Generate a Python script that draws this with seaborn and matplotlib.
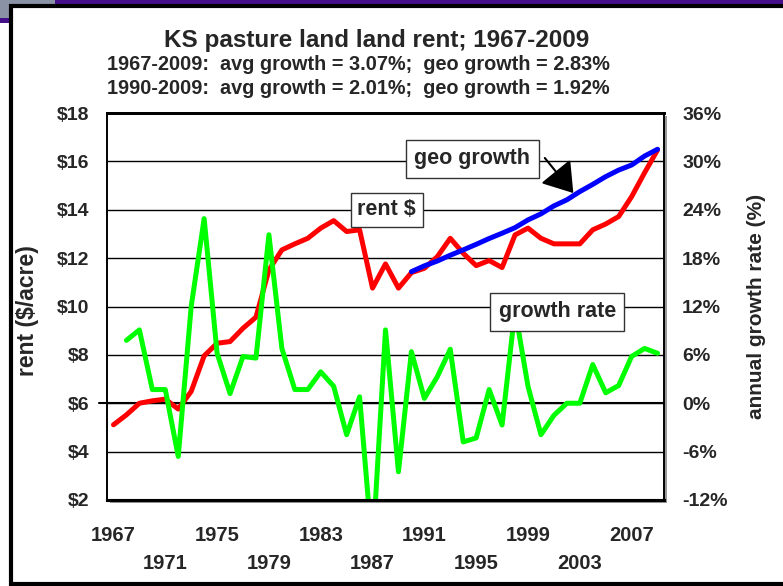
import pandas as pd
import matplotlib
matplotlib.use('Agg')
import matplotlib.pyplot as plt
import matplotlib.ticker as mticker
from matplotlib.patches import Rectangle
import seaborn as sns

# values
years = list(range(1967, 2010))
rent = [5.11, 5.52, 6.00, 6.10, 6.17, 5.76, 6.49, 7.96, 8.48, 8.55,
        9.10, 9.56, 11.51, 12.34, 12.59, 12.82, 13.24, 13.55, 13.10, 13.17,
        10.76, 11.76, 10.76, 11.40, 11.58, 12.06, 12.82, 12.20, 11.69, 11.90,
        11.61, 12.96, 13.24, 12.82, 12.59, 12.59, 12.59, 13.17, 13.41, 13.72,
        14.54, 15.53, 16.47]
growth_years = years[1:]
growth = [7.8, 9.1, 1.7, 1.7, -6.6, 12.0, 22.9, 6.2, 1.2, 5.8,
          5.6, 20.9, 6.8, 1.7, 1.7, 3.9, 2.1, -3.9, 0.8, -18.3,
          9.1, -8.5, 6.4, 0.6, 3.3, 6.7, -4.8, -4.3, 1.7, -2.7,
          11.6, 2.1, -3.9, -1.5, 0.0, 0.0, 4.8, 1.3, 2.2, 5.8,
          6.8, 6.2]
geo_years = years[23:]
geo = [11.44, 11.68, 11.88, 12.12, 12.34, 12.57, 12.81, 13.03, 13.26, 13.58,
       13.83, 14.16, 14.41, 14.75, 15.05, 15.37, 15.64, 15.85, 16.22, 16.50]

label_years = list(range(1967, 2010, 4))
left_ticks = list(range(2, 19, 2))
right_ticks = list(range(-12, 37, 6))

title = 'KS pasture land land rent; 1967-2009'
sub1 = '1967-2009:  avg growth = 3.07%;  geo growth = 2.83%'
sub2 = '1990-2009:  avg growth = 2.01%;  geo growth = 1.92%'

sns.set_style('white')
plt.rcParams['font.family'] = ['Liberation Sans', 'DejaVu Sans']
plt.rcParams['font.weight'] = 'bold'

W, H = 783, 586
fig = plt.figure(figsize=(W / 100, H / 100), dpi=100)
fig.patch.set_facecolor('white')


def px(x0, y0, x1, y1):
    # pixel box -> figure fraction rect
    return [x0 / W, 1 - y1 / H, (x1 - x0) / W, (y1 - y0) / H]


# slide frame
fig.add_artist(Rectangle((0, 1 - 5 / H), 1, 5 / H, transform=fig.transFigure,
                         color='#46108a', lw=0, zorder=-5))
fig.add_artist(Rectangle((0, 1 - 18 / H), 55 / W, 18 / H, transform=fig.transFigure,
                         color='#8a93a6', lw=0, zorder=-4))
fig.add_artist(Rectangle((0, 1 - 23 / H), 10 / W, 5 / H, transform=fig.transFigure,
                         color='#46108a', lw=0, zorder=-4))
fig.add_artist(Rectangle((11 / W, 1 - 584 / H), 1.2, (584 - 6) / H,
                         transform=fig.transFigure, facecolor='white',
                         edgecolor='black', lw=3, zorder=-3))
# plot area shadow
r = px(110, 116, 667, 503)
fig.add_artist(Rectangle((r[0], r[1]), r[2], r[3], transform=fig.transFigure,
                         color='#9a9a9a', lw=0, zorder=-1))

ax = fig.add_axes(px(107, 113, 664, 500))
ax2 = ax.twinx()

df_rent = pd.DataFrame({'year': years, 'rent': rent})
df_growth = pd.DataFrame({'year': growth_years, 'growth': growth})
df_geo = pd.DataFrame({'year': geo_years, 'geo': geo})

sns.lineplot(data=df_rent, x='year', y='rent', ax=ax, color='#ff0000', lw=3.6,
             zorder=3, solid_joinstyle='round', solid_capstyle='round')
sns.lineplot(data=df_geo, x='year', y='geo', ax=ax, color='#0000ff', lw=3.6,
             zorder=4, solid_joinstyle='round', solid_capstyle='round')
sns.lineplot(data=df_growth, x='year', y='growth', ax=ax2, color='#00ff00', lw=3.6,
             solid_joinstyle='round', solid_capstyle='round')

ax.set_xlim(1966.5, 2009.5)
ax.set_ylim(2, 18)
ax2.set_ylim(-12, 36)

ax.set_yticks(left_ticks)
ax.yaxis.set_major_formatter(mticker.FuncFormatter(lambda v, p: f'${v:.0f}'))
ax2.set_yticks(right_ticks)
ax2.yaxis.set_major_formatter(mticker.FuncFormatter(lambda v, p: f'{v:.0f}%'))
ax.tick_params(axis='y', length=0, pad=13, labelsize=14)
ax2.tick_params(axis='y', length=0, pad=13, labelsize=14)

ax.set_xticks(label_years)
ax.set_xticklabels([str(y) if i % 2 == 0 else '\n' + str(y)
                    for i, y in enumerate(label_years)])
ax.set_xticks(years, minor=True)
ax.tick_params(axis='x', which='both', direction='in', length=8, width=1,
               color='#555555', pad=19, labelsize=14.5)
for t in ax.get_xticklabels():
    t.set_linespacing(1.55)

ax.yaxis.grid(True, color='black', lw=1)
ax.set_axisbelow(True)
ax.plot([-0.015, 1], [6, 6], transform=ax.get_yaxis_transform(), color='black',
        lw=1.5, clip_on=False, zorder=1)

for a in (ax, ax2):
    for s in a.spines.values():
        s.set_color('black')
        s.set_linewidth(1.2)
    a.spines['top'].set_linewidth(2)
    a.spines['bottom'].set_linewidth(2.2)
    a.set_xlabel('')

ax.set_ylabel('rent ($/acre)', fontsize=16.5, fontweight='bold')
ax.yaxis.set_label_coords(-0.122, 0.49)
ax2.set_ylabel('annual growth rate (%)', fontsize=15, fontweight='bold', rotation=90)
ax2.yaxis.set_label_coords(1.149, 0.5)

box = dict(boxstyle='square,pad=0.4', facecolor='white', edgecolor='#333333', lw=1)
ax2.text(1994.7, 16.1, 'geo growth', transform=ax.transData, ha='center', va='center',
         fontsize=15.5, fontweight='bold', bbox=box, zorder=10)
ax2.text(1988.1, 13.99, 'rent $', transform=ax.transData, ha='center', va='center',
         fontsize=15.5, fontweight='bold',
         bbox=dict(boxstyle='square,pad=0.3', facecolor='white',
                   edgecolor='#333333', lw=1), zorder=10)
ax2.text(2001.25, 9.78, 'growth rate', transform=ax.transData, ha='center', va='center',
         fontsize=15.5, fontweight='bold', bbox=box, zorder=10)
ax2.annotate('', xy=(2002.5, 14.69), xytext=(2000.3, 16.14),
             xycoords=ax.transData, textcoords=ax.transData,
             arrowprops=dict(arrowstyle='-|>,head_length=1.2,head_width=0.8',
                             mutation_scale=15, color='black', lw=1.5,
                             shrinkA=0, shrinkB=0),
             zorder=11)

fig.text(377 / W, 1 - 40 / H, title, ha='center', va='center', fontsize=17.5,
         fontweight='bold')
fig.text(358 / W, 1 - 64 / H, sub1, ha='center', va='center', fontsize=14.3,
         fontweight='bold')
fig.text(358 / W, 1 - 88 / H, sub2, ha='center', va='center', fontsize=14.3,
         fontweight='bold')

fig.savefig('out.png', dpi=100)
